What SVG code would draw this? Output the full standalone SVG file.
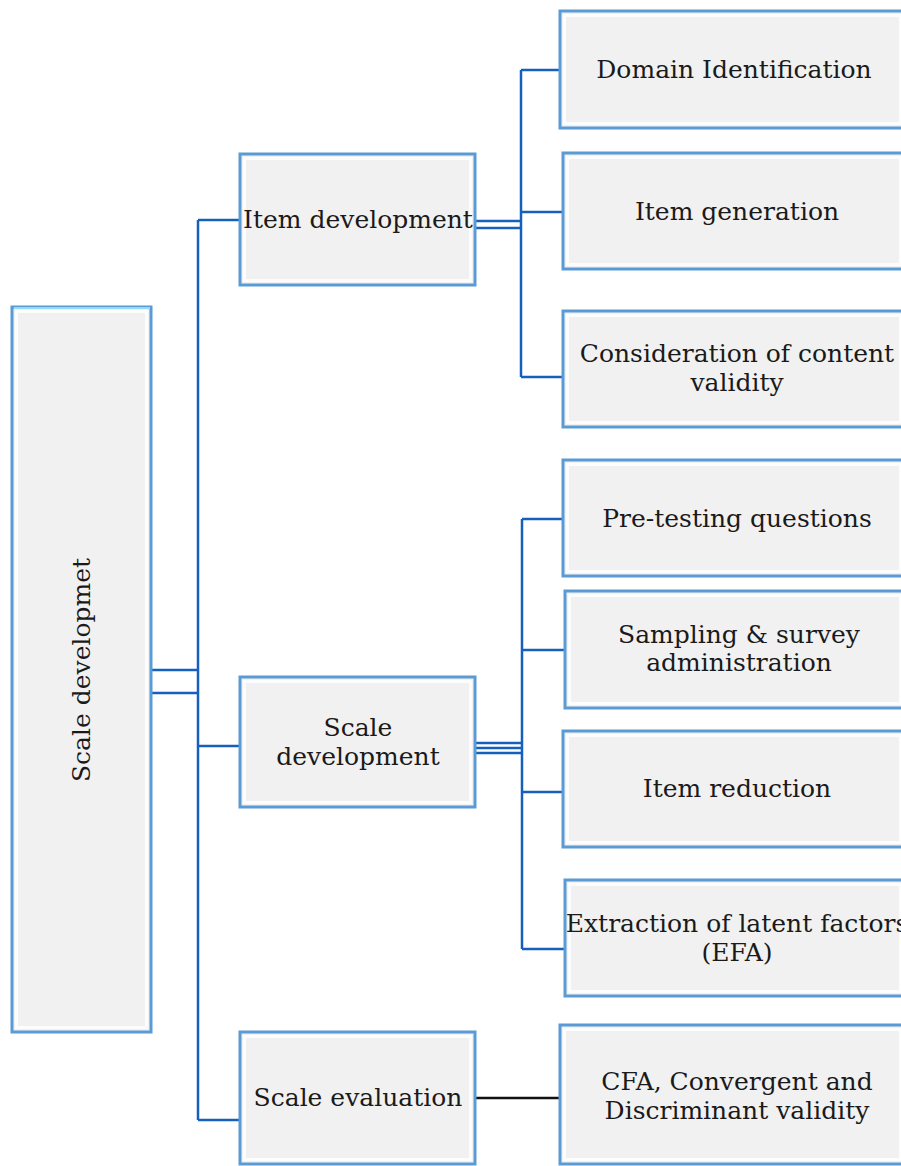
<svg xmlns="http://www.w3.org/2000/svg" width="901" height="1166" viewBox="0 0 901 1166">
<style>
.box{fill:#f1f1f1;stroke:#5b9bd5;stroke-width:3}
.hl{fill:none;stroke:#ffffff;stroke-width:3;opacity:0.85}
.t{font-family:"DejaVu Serif","Liberation Serif",serif;font-size:25px;fill:#1a1a1a;text-anchor:middle}
.c{fill:none;stroke:#1560bd;stroke-width:2.5}
</style>
<rect width="901" height="1166" fill="#fff"/>
<g id="connectors">
<path class="c" d="M151 670H198M151 693H198M198 220V1120M198 220H240M198 746H240M198 1120H240"/>
<path class="c" d="M475 221H521M475 228H521M521 70V377M521 70H560M521 212H563M521 377H563"/>
<path class="c" d="M475 743H522M475 748H522M475 753H522M522 519V949M522 519H563M522 650H565M522 792H563M522 949H565"/>
<path d="M475 1098H560" fill="none" stroke="#111" stroke-width="2.5"/>
</g>
<g id="root"><rect class="box" x="12" y="307" width="139" height="725"/><rect class="hl" x="16.5" y="311.5" width="130" height="716"/><line x1="14" y1="308" x2="150" y2="308" stroke="#8fdcff" stroke-width="2"/><text class="t" transform="translate(90 670) rotate(-90)">Scale developmet</text></g>
<g id="item-development"><rect class="box" x="240" y="154" width="235" height="131"/><rect class="hl" x="244.5" y="158.5" width="226" height="122"/><text class="t" x="358" y="228">Item development</text></g>
<g id="scale-development"><rect class="box" x="240" y="677" width="235" height="130"/><rect class="hl" x="244.5" y="681.5" width="226" height="121"/><text class="t" x="358" y="736">Scale</text><text class="t" x="358" y="765">development</text></g>
<g id="scale-evaluation"><rect class="box" x="240" y="1032" width="235" height="132"/><rect class="hl" x="244.5" y="1036.5" width="226" height="123"/><text class="t" x="358" y="1106">Scale evaluation</text></g>
<g id="domain-identification"><rect class="box" x="560" y="11" width="345" height="117"/><rect class="hl" x="564.5" y="15.5" width="336" height="108"/><text class="t" x="734" y="78">Domain Identification</text></g>
<g id="item-generation"><rect class="box" x="563" y="153" width="342" height="116"/><rect class="hl" x="567.5" y="157.5" width="333" height="107"/><text class="t" x="737" y="220">Item generation</text></g>
<g id="content-validity"><rect class="box" x="563" y="311" width="342" height="116"/><rect class="hl" x="567.5" y="315.5" width="333" height="107"/><text class="t" x="737" y="362">Consideration of content</text><text class="t" x="737" y="391">validity</text></g>
<g id="pre-testing"><rect class="box" x="563" y="460" width="342" height="116"/><rect class="hl" x="567.5" y="464.5" width="333" height="107"/><text class="t" x="737" y="527">Pre-testing questions</text></g>
<g id="sampling"><rect class="box" x="565" y="591" width="340" height="117"/><rect class="hl" x="569.5" y="595.5" width="331" height="108"/><text class="t" x="739" y="643">Sampling &amp; survey</text><text class="t" x="739" y="671">administration</text></g>
<g id="item-reduction"><rect class="box" x="563" y="731" width="342" height="116"/><rect class="hl" x="567.5" y="735.5" width="333" height="107"/><text class="t" x="737" y="797">Item reduction</text></g>
<g id="extraction"><rect class="box" x="565" y="880" width="340" height="116"/><rect class="hl" x="569.5" y="884.5" width="331" height="107"/><text class="t" x="737" y="932">Extraction of latent factors</text><text class="t" x="737" y="961">(EFA)</text></g>
<g id="cfa"><rect class="box" x="560" y="1025" width="345" height="139"/><rect class="hl" x="564.5" y="1029.5" width="336" height="130"/><text class="t" x="737" y="1090">CFA, Convergent and</text><text class="t" x="737" y="1119">Discriminant validity</text></g>
</svg>
